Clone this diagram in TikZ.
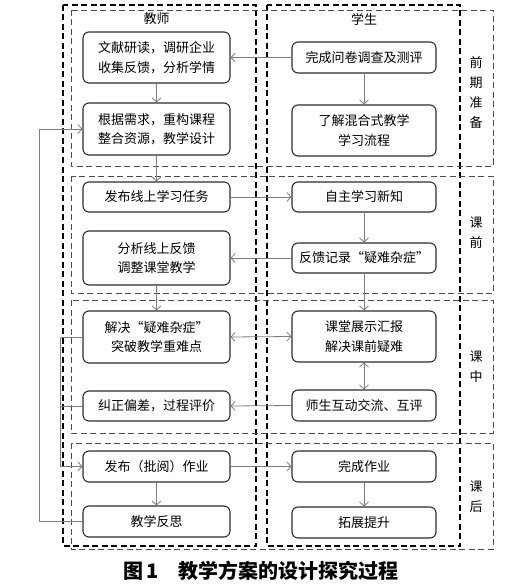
\documentclass[tikz,border=0pt]{standalone}
\usepackage{fontspec}
\setmainfont{Noto Sans CJK SC}
\usepackage{xcolor}
\usepackage{tikz}
\usetikzlibrary{arrows.meta,positioning,calc}
\definecolor{boxgray}{RGB}{45,45,45}
\definecolor{arrowgray}{RGB}{125,125,125}
\definecolor{phasegray}{RGB}{75,75,75}

\tikzset{
  stepbox/.style={draw=boxgray, line width=1.1pt, rounded corners=6pt, align=center,
    inner sep=2pt, font=\fontsize{13}{19.5}\selectfont},
  teacherbox/.style={stepbox, minimum width=147pt},
  studentbox/.style={stepbox, minimum width=144pt},
  flow/.style={draw=arrowgray, line width=0.8pt, -{Straight Barb[length=4pt,width=9pt]}},
  twoway/.style={draw=arrowgray, line width=0.8pt,
    {Straight Barb[length=4pt,width=9pt]}-{Straight Barb[length=4pt,width=9pt]}},
  link/.style={draw=arrowgray, line width=0.8pt},
  colframe/.style={draw=black, line width=1.2pt, dash pattern=on 6pt off 3.5pt},
  phaseframe/.style={draw=phasegray, line width=0.9pt, dash pattern=on 6pt off 3.5pt},
  phaselabel/.style={align=center, font=\fontsize{13}{20}\selectfont},
  coltitle/.style={font=\fontsize{13}{16}\selectfont}
}

\begin{document}
\begin{tikzpicture}[x=1pt,y=-1pt]
    \useasboundingbox (0,0) rectangle (523,588);

    % Column frames: teacher / student
    \draw[colframe] (63,5) rectangle (256,546);
    \draw[colframe] (267,5) rectangle (460,546);
    \node[coltitle] (teacher) at (156.5,19) {教师};
    \node[coltitle] (student) at (364,19) {学生};

    % Phase frames
    \draw[phaseframe] (71,10) rectangle (493,166);
    \draw[phaseframe] (71,176) rectangle (493,293);
    \draw[phaseframe] (71,300) rectangle (493,433);
    \draw[phaseframe] (71,443) rectangle (493,549);
    \node[phaselabel] (prep) at (476,93) {前\\期\\准\\备};
    \node[phaselabel] (before) at (476,233) {课\\前};
    \node[phaselabel] (during) at (476,367) {课\\中};
    \node[phaselabel] (after) at (476,497) {课\\后};

    % Teacher steps
    \node[teacherbox, minimum height=51pt] (t1) at (156.5,57.5) {文献研读，调研企业\\收集反馈，分析学情};
    \node[teacherbox, minimum height=52pt] (t2) at (156.5,129) {根据需求，重构课程\\整合资源，教学设计};
    \node[teacherbox, minimum height=30pt] (t3) at (156.5,197) {发布线上学习任务};
    \node[teacherbox, minimum height=54pt] (t4) at (156.5,258) {分析线上反馈\\调整课堂教学};
    \node[teacherbox, minimum height=52pt] (t5) at (156.5,337) {解决“疑难杂症”\\突破教学重难点};
    \node[teacherbox, minimum height=30pt] (t6) at (156.5,406) {纠正偏差，过程评价};
    \node[teacherbox, minimum height=31pt] (t7) at (156.5,466.5) {发布（批阅）作业};
    \node[teacherbox, minimum height=31pt] (t8) at (156.5,521.5) {教学反思};

    % Student steps
    \node[studentbox, minimum height=31pt] (s1) at (364,57.5) {完成问卷调查及测评};
    \node[studentbox, minimum height=51pt] (s2) at (364,130.5) {了解混合式教学\\学习流程};
    \node[studentbox, minimum height=30pt] (s3) at (364,197) {自主学习新知};
    \node[studentbox, minimum height=30pt] (s4) at (364,258) {反馈记录“疑难杂症”};
    \node[studentbox, minimum height=51pt] (s5) at (364,336.5) {课堂展示汇报\\解决课前疑难};
    \node[studentbox, minimum height=31pt] (s6) at (364,405.5) {师生互动交流、互评};
    \node[studentbox, minimum height=31pt] (s7) at (364,466.5) {完成作业};
    \node[studentbox, minimum height=31pt] (s8) at (364,522.5) {拓展提升};

    % Connectors
    \draw[flow] (s1.west) -- (t1.east);
    \draw[flow] (t1) -- (t2);
    \draw[flow] (t2) -- (t3);
    \draw[flow] (s1) -- (s2);
    \draw[flow] (t3.east) -- (s3.west);
    \draw[flow] (s3) -- (s4);
    \draw[flow] (s4.west) -- (t4.east);
    \draw[flow] (t4) -- (t5);
    \draw[flow] (s4) -- (s5);
    \draw[twoway] (t5.east) -- (s5.west);
    \draw[twoway] (s5) -- (s6);
    \draw[flow] (s6.west) -- (t6.east);
    \draw[flow] (t7.east) -- (s7.west);
    \draw[flow] (t7) -- (t8);
    \draw[flow] (s7) -- (s8);

    % Feedback loops on the left
    \coordinate (loopa) at (60,0);
    \coordinate (loopb) at (39,0);
    \draw[flow] (t5.west) -- (t5.west -| loopa) |- (t7.west);
    \draw[link] (t6.west) -- (t6.west -| loopa);
    \draw[flow] (t8.west) -- (t8.west -| loopb) |- (t2.west);

    % Caption
    \node[font=\fontsize{20}{24}\selectfont\bfseries] (caption) at (261,571) {图\,1\hspace{1em}教学方案的设计探究过程};
\end{tikzpicture}
\end{document}
